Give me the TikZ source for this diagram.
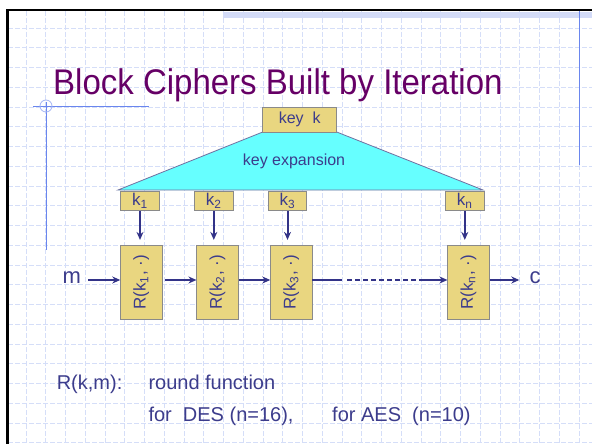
\documentclass[tikz,border=0pt]{standalone}
\usepackage{fontspec}
\setmainfont{Liberation Sans}
\usetikzlibrary{arrows.meta}
\definecolor{ink}{HTML}{3C3C8C}
\definecolor{arrowc}{HTML}{333388}
\definecolor{keyfill}{HTML}{E9D680}
\definecolor{boxline}{HTML}{8A8A8A}
\definecolor{expfill}{HTML}{66FFFF}
\definecolor{expline}{HTML}{7070A0}
\definecolor{gridc}{HTML}{D5DEF8}
\definecolor{titlec}{HTML}{660066}
\definecolor{accent}{HTML}{6A86EE}
\definecolor{band}{HTML}{D3DBF7}
\tikzset{
  gridline/.style={draw=gridc, line width=0.8pt, dash pattern=on 5pt off 2pt},
  keybox/.style={draw=boxline, fill=keyfill, line width=0.8pt, inner sep=0pt,
    text=ink, font=\fontsize{17}{20}\selectfont},
  roundbox/.style={draw=boxline, fill=keyfill, line width=0.8pt, inner sep=0pt,
    minimum width=41.3pt, minimum height=74pt},
  rlabel/.style={rotate=90, text=ink, font=\fontsize{17}{20}\selectfont, inner sep=0pt},
  flow/.style={draw=arrowc, line width=2pt, -{Stealth[length=8pt,width=7pt]}},
  plainflow/.style={draw=arrowc, line width=2pt},
  dashflow/.style={draw=arrowc, line width=2pt, dash pattern=on 5pt off 3pt},
  bodytext/.style={text=ink, font=\fontsize{20}{24}\selectfont, inner sep=0pt, anchor=base west},
  iotext/.style={text=ink, font=\fontsize{22}{26}\selectfont, inner sep=0pt}
}
\begin{document}
\begin{tikzpicture}[x=1pt,y=-1pt]
\useasboundingbox (0,0) rectangle (592,444);
\fill[white] (0,0) rectangle (592,444);

% background grid
\foreach \i in {0,...,28} {
  \draw[gridline] ({26+19.75*\i},11) -- ({26+19.75*\i},444);
}
\foreach \j in {0,...,21} {
  \draw[gridline] (8,{28+19.75*\j}) -- (592,{28+19.75*\j});
}

% top band and frame
\fill[band] (223,12) rectangle (592,18);
\draw[line width=2.5pt] (7.5,444) -- (7.5,10) -- (592,10);

% accent lines
\draw[accent, line width=1pt] (579,11) -- (579,165);
\draw[accent, line width=1pt] (33,106) -- (149,106);
\draw[accent, line width=1pt] (46,102) -- (46,250);
\draw[accent!60, line width=0.8pt] (46,106) circle (6);

% title
\node[anchor=base west, text=titlec, font=\fontsize{33}{40}\selectfont, inner sep=0pt]
  (title) at (53,94.3) {\scalebox{1}[1.08]{Block Ciphers Built by Iteration}};

% key expansion
\coordinate (tl) at (262.7,132);
\coordinate (tr) at (336.7,132);
\coordinate (br) at (483,190);
\coordinate (bl) at (118,190);
\draw[fill=expfill, draw=expline, line width=0.8pt] (tl) -- (tr) -- (br) -- (bl) -- cycle;
\node[text=ink, font=\fontsize{16}{19}\selectfont, inner sep=0pt] (exp) at (294,161) {key expansion};

\node[keybox, minimum width=74pt, minimum height=24.7pt, font=\fontsize{16}{19}\selectfont]
  (key) at (299.7,119.6) {key\ \ k};

% round keys
\node[keybox, minimum width=38.6pt, minimum height=19.7pt] (k1) at (140,200.9) {k\textsubscript{1}};
\node[keybox, minimum width=38.6pt, minimum height=19.7pt] (k2) at (213.8,200.9) {k\textsubscript{2}};
\node[keybox, minimum width=38.6pt, minimum height=19.7pt] (k3) at (287.5,200.9) {k\textsubscript{3}};
\node[keybox, minimum width=38.6pt, minimum height=19.7pt] (kn) at (464.8,200.9) {k\textsubscript{n}};

% round functions
\node[roundbox] (R1) at (141.3,282.3) {};
\node[roundbox] (R2) at (217.5,282.3) {};
\node[roundbox] (R3) at (291.3,282.3) {};
\node[roundbox] (Rn) at (468.5,282.3) {};
\node[rlabel] at (R1) {R(k\textsubscript{1}, ·)};
\node[rlabel] at (R2) {R(k\textsubscript{2}, ·)};
\node[rlabel] at (R3) {R(k\textsubscript{3}, ·)};
\node[rlabel] at (Rn) {R(k\textsubscript{n}, ·)};

% key arrows
\foreach \k/\r in {k1/R1, k2/R2, k3/R3, kn/Rn} {
  \draw[flow, shorten >=5pt] (\k.south) -- (\k.south |- \r.north);
}

% message path
\node[iotext] (m) at (71.7,278) {m};
\node[iotext] (c) at (535,278) {c};
\coordinate (row) at (0,280);
\coordinate (d1) at (342,280);
\coordinate (d2) at (347,280);
\coordinate (d3) at (420,280);
\draw[flow] (90,280 -| m.east) ++(7,0) -- (R1.west |- row);
\draw[flow] ([xshift=3pt]R1.east |- row) -- (R2.west |- row);
\draw[flow] (R2.east |- row) -- (R3.west |- row);
\draw[plainflow] (R3.east |- row) -- (d1);
\draw[dashflow] (d2) -- (d3);
\draw[flow] (d3) -- (Rn.west |- row);
\draw[flow] (Rn.east |- row) -- ([xshift=-10pt]c.west |- row);

% notes
\node[bodytext] (n1) at (56.6,389.8) {R(k,m):};
\node[bodytext] (n2) at (148.3,389.8) {round function};
\node[bodytext] (n3) at (148.3,421.9) {for\ \ DES (n=16),};
\node[bodytext] (n4) at (332,421.9) {for AES\ \ (n=10)};
\end{tikzpicture}
\end{document}
